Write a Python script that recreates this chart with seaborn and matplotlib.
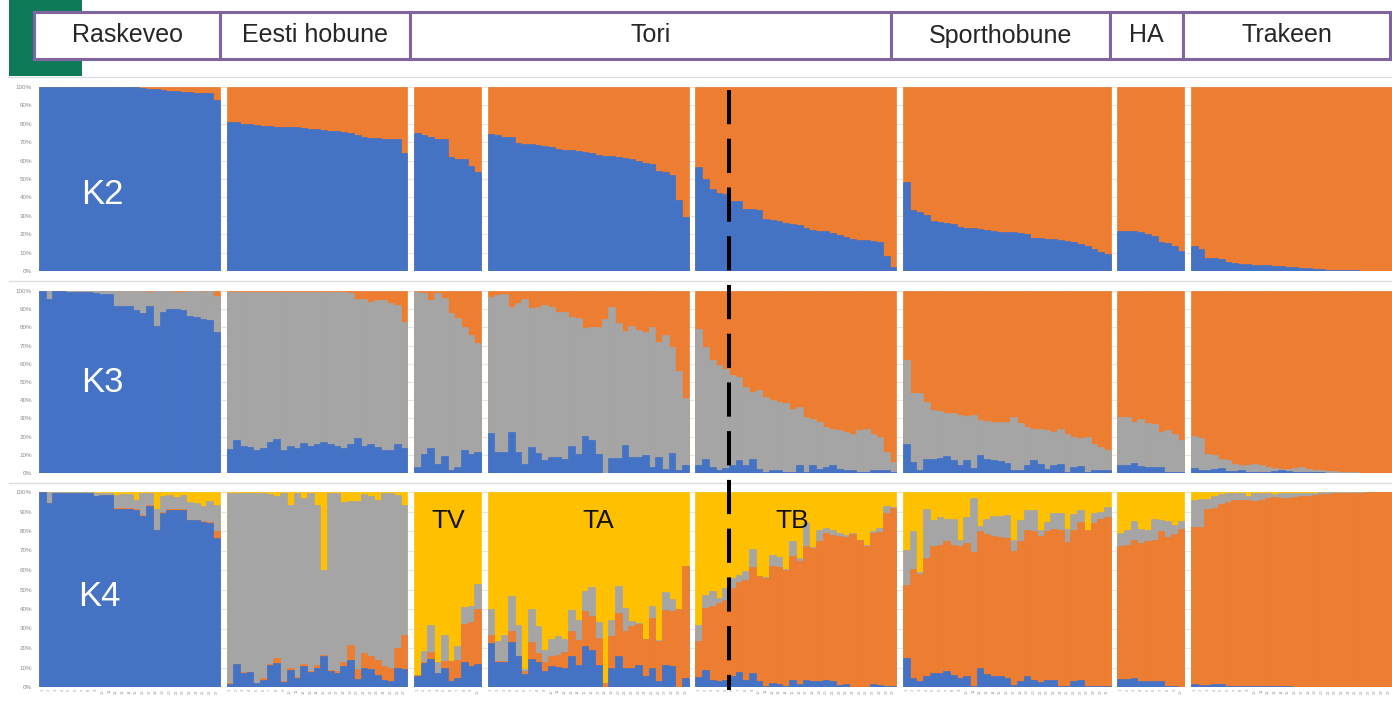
import numpy as np
import pandas as pd
import matplotlib
matplotlib.use("Agg")
import matplotlib.pyplot as plt
from matplotlib.patches import Rectangle
import seaborn as sns

# ---------------------------------------------------------------------------
# Ancestry proportions (one value per individual)
# ---------------------------------------------------------------------------
GROUPS = ["Raskeveo", "Eesti hobune", "TV", "TA", "TB", "Sporthobune", "HA", "Trakeen"]
HEADER = ["Raskeveo", "Eesti hobune", "Tori", "Sporthobune", "HA", "Trakeen"]
SUBLABELS = ["TV", "TA", "TB"]

# K2: blue share (orange is the rest)
RAS_K2_BLUE = [1.0, 1.0, 1.0, 1.0, 1.0, 1.0, 1.0, 1.0, 1.0, 1.0,
               1.0, 1.0, 1.0, 1.0, 1.0, 0.995, 0.99, 0.99, 0.985, 0.98,
               0.98, 0.975, 0.975, 0.97, 0.97, 0.965, 0.93]
EES_K2_BLUE = [0.81, 0.81, 0.80, 0.80, 0.795, 0.79, 0.79, 0.785, 0.78, 0.78,
               0.78, 0.775, 0.77, 0.77, 0.765, 0.76, 0.76, 0.755, 0.75, 0.74,
               0.73, 0.725, 0.725, 0.72, 0.72, 0.715, 0.64]
TV_K2_BLUE = [0.75, 0.74, 0.73, 0.72, 0.72, 0.62, 0.61, 0.61, 0.57, 0.54]
TA_K2_BLUE = [0.745, 0.74, 0.73, 0.73, 0.695, 0.69, 0.69, 0.685, 0.68, 0.675,
              0.665, 0.66, 0.655, 0.65, 0.645, 0.64, 0.63, 0.625, 0.625, 0.62,
              0.615, 0.61, 0.60, 0.585, 0.58, 0.545, 0.54, 0.52, 0.385, 0.295]
TB_K2_BLUE = [0.565, 0.50, 0.445, 0.425, 0.42, 0.38, 0.38, 0.335, 0.335, 0.33,
              0.28, 0.275, 0.27, 0.26, 0.255, 0.25, 0.235, 0.225, 0.22, 0.215,
              0.205, 0.195, 0.185, 0.175, 0.17, 0.17, 0.165, 0.16, 0.08, 0.02]
SPO_K2_BLUE = [0.485, 0.33, 0.32, 0.305, 0.27, 0.265, 0.26, 0.255, 0.24, 0.235,
               0.235, 0.23, 0.225, 0.215, 0.21, 0.21, 0.21, 0.205, 0.20, 0.18,
               0.178, 0.176, 0.172, 0.168, 0.163, 0.16, 0.145, 0.135, 0.12, 0.105,
               0.09]
HA_K2_BLUE = [0.22, 0.215, 0.215, 0.21, 0.20, 0.19, 0.155, 0.15, 0.135, 0.11]
TRA_K2_BLUE = [0.135, 0.12, 0.07, 0.068, 0.065, 0.05, 0.045, 0.04, 0.038, 0.035,
               0.033, 0.03, 0.028, 0.025, 0.022, 0.02, 0.018, 0.015, 0.012, 0.01,
               0.008, 0.006, 0.005, 0.004, 0.003, 0.002, 0.002, 0.001, 0.001, 0.0]

# K3: blue share and blue+gray (orange is the rest)
RAS_K3_BLUE = [1.0, 0.955, 0.998, 0.998, 0.997, 0.996, 0.995, 0.995, 0.99, 0.985,
               0.985, 0.92, 0.915, 0.915, 0.895, 0.88, 0.92, 0.81, 0.885, 0.90,
               0.90, 0.895, 0.86, 0.855, 0.845, 0.84, 0.775]
RAS_K3_GRAY = [1.0, 1.0, 1.0, 1.0, 1.0, 1.0, 1.0, 1.0, 1.0, 1.0,
               1.0, 1.0, 1.0, 1.0, 1.0, 1.0, 0.995, 1.0, 1.0, 1.0,
               0.995, 0.995, 1.0, 1.0, 0.995, 1.0, 0.97]
EES_K3_BLUE = [0.13, 0.183, 0.149, 0.143, 0.125, 0.138, 0.171, 0.189, 0.125, 0.149,
               0.138, 0.167, 0.149, 0.161, 0.171, 0.161, 0.149, 0.138, 0.161, 0.193,
               0.149, 0.161, 0.143, 0.125, 0.125, 0.161, 0.138]
EES_K3_GRAY = [0.997, 0.997, 0.997, 0.997, 0.997, 0.997, 0.997, 0.997, 0.997, 0.997,
               0.997, 0.997, 0.997, 0.997, 0.997, 0.997, 0.997, 0.997, 0.99, 0.954,
               0.954, 0.941, 0.95, 0.95, 0.932, 0.923, 0.831]
TV_K3_BLUE = [0.033, 0.106, 0.138, 0.051, 0.094, 0.018, 0.033, 0.125, 0.106, 0.116]
TV_K3_GRAY = [0.993, 0.987, 0.95, 0.987, 0.96, 0.877, 0.85, 0.804, 0.758, 0.712]
TA_K3_BLUE = [0.22, 0.116, 0.116, 0.226, 0.116, 0.051, 0.143, 0.11, 0.07, 0.088,
              0.088, 0.079, 0.147, 0.106, 0.202, 0.18, 0.106, 0.0, 0.083, 0.083,
              0.156, 0.088, 0.088, 0.097, 0.033, 0.088, 0.024, 0.11, 0.018, 0.042]
TA_K3_GRAY = [0.965, 0.978, 0.983, 0.914, 0.932, 0.954, 0.905, 0.914, 0.923, 0.914,
              0.886, 0.886, 0.859, 0.85, 0.794, 0.804, 0.804, 0.844, 0.91, 0.822,
              0.78, 0.807, 0.785, 0.776, 0.804, 0.721, 0.758, 0.694, 0.561, 0.413]
TB_K3_BLUE = [0.042, 0.079, 0.033, 0.018, 0.028, 0.042, 0.07, 0.042, 0.079, 0.024,
              0.005, 0.018, 0.015, 0.005, 0.005, 0.042, 0.005, 0.042, 0.024, 0.033,
              0.042, 0.024, 0.018, 0.018, 0.005, 0.005, 0.018, 0.015, 0.015, 0.005]
TB_K3_GRAY = [0.789, 0.694, 0.62, 0.593, 0.569, 0.538, 0.528, 0.473, 0.446, 0.455,
              0.418, 0.40, 0.391, 0.385, 0.354, 0.363, 0.308, 0.299, 0.281, 0.253,
              0.244, 0.235, 0.226, 0.217, 0.235, 0.244, 0.217, 0.198, 0.116, 0.061]
SPO_K3_BLUE = [0.158, 0.061, 0.018, 0.079, 0.079, 0.083, 0.092, 0.07, 0.042, 0.07,
               0.028, 0.097, 0.079, 0.07, 0.064, 0.055, 0.015, 0.018, 0.042, 0.07,
               0.051, 0.024, 0.042, 0.051, 0.005, 0.033, 0.037, 0.005, 0.015, 0.015,
               0.015]
SPO_K3_GRAY = [0.62, 0.44, 0.437, 0.391, 0.345, 0.34, 0.33, 0.327, 0.317, 0.312,
               0.317, 0.29, 0.286, 0.281, 0.281, 0.281, 0.308, 0.275, 0.253, 0.244,
               0.244, 0.235, 0.226, 0.244, 0.217, 0.198, 0.19, 0.198, 0.161, 0.143,
               0.128]
HA_K3_BLUE = [0.046, 0.046, 0.055, 0.037, 0.033, 0.033, 0.033, 0.005, 0.005, 0.005]
HA_K3_GRAY = [0.308, 0.305, 0.281, 0.294, 0.275, 0.268, 0.226, 0.235, 0.213, 0.18]
TRA_K3_BLUE = [0.03, 0.018, 0.018, 0.024, 0.03, 0.011, 0.011, 0.018, 0.005, 0.005,
               0.005, 0.008, 0.011, 0.015, 0.011, 0.008, 0.005, 0.005, 0.004, 0.003,
               0.002, 0.002, 0.001, 0.001, 0.001, 0.0, 0.0, 0.0, 0.0, 0.0]
TRA_K3_GRAY = [0.202, 0.195, 0.103, 0.097, 0.079, 0.07, 0.048, 0.042, 0.046, 0.051,
               0.046, 0.033, 0.029, 0.024, 0.024, 0.026, 0.031, 0.024, 0.018, 0.015,
               0.011, 0.011, 0.005, 0.005, 0.004, 0.002, 0.002, 0.001, 0.001, 0.0]

# K4: blue, blue+orange, blue+orange+gray (yellow is the rest)
RAS_K4_BLUE = [1.0, 0.944, 0.997, 0.997, 0.997, 0.997, 0.997, 0.995, 0.978, 0.986,
               0.986, 0.913, 0.915, 0.915, 0.909, 0.879, 0.926, 0.807, 0.892, 0.906,
               0.906, 0.906, 0.855, 0.855, 0.844, 0.841, 0.764]
RAS_K4_ORANGE = [1.0, 0.944, 0.997, 0.997, 0.997, 0.997, 0.997, 0.995, 0.978, 0.986,
                 0.986, 0.916, 0.918, 0.918, 0.912, 0.882, 0.932, 0.807, 0.897, 0.913,
                 0.913, 0.913, 0.858, 0.858, 0.85, 0.844, 0.798]
RAS_K4_GRAY = [1.0, 1.0, 1.0, 1.0, 0.999, 0.999, 0.999, 0.998, 0.995, 0.995,
               0.993, 0.985, 0.99, 0.99, 0.961, 0.995, 0.995, 0.913, 0.98, 0.985,
               0.975, 0.985, 0.95, 0.944, 0.926, 0.952, 0.935]
EES_K4_BLUE = [0.017, 0.118, 0.072, 0.075, 0.02, 0.038, 0.111, 0.123, 0.025, 0.089,
               0.046, 0.109, 0.075, 0.097, 0.157, 0.08, 0.072, 0.106, 0.14, 0.041,
               0.10, 0.09, 0.063, 0.038, 0.03, 0.097, 0.09]
EES_K4_ORANGE = [0.02, 0.12, 0.075, 0.078, 0.022, 0.045, 0.118, 0.149, 0.03, 0.095,
                 0.05, 0.12, 0.08, 0.114, 0.165, 0.088, 0.08, 0.13, 0.217, 0.09,
                 0.175, 0.157, 0.14, 0.11, 0.10, 0.20, 0.267]
EES_K4_GRAY = [0.995, 0.995, 0.995, 0.995, 0.995, 0.995, 0.99, 0.978, 0.995, 0.935,
               0.995, 0.97, 0.995, 0.935, 0.60, 0.995, 0.995, 0.95, 0.952, 0.955,
               0.99, 0.978, 0.96, 0.995, 0.995, 0.985, 0.935]
TV_K4_BLUE = [0.058, 0.123, 0.145, 0.072, 0.10, 0.029, 0.046, 0.126, 0.106, 0.118]
TV_K4_ORANGE = [0.063, 0.126, 0.178, 0.072, 0.132, 0.132, 0.14, 0.325, 0.332, 0.40]
TV_K4_GRAY = [0.063, 0.186, 0.316, 0.126, 0.268, 0.132, 0.212, 0.41, 0.417, 0.528]
TA_K4_BLUE = [0.226, 0.126, 0.126, 0.229, 0.161, 0.067, 0.144, 0.126, 0.08, 0.106,
              0.103, 0.097, 0.157, 0.115, 0.209, 0.191, 0.115, 0.0, 0.097, 0.157,
              0.097, 0.097, 0.115, 0.058, 0.097, 0.029, 0.115, 0.11, 0.0, 0.046]
TA_K4_ORANGE = [0.268, 0.132, 0.132, 0.285, 0.161, 0.08, 0.229, 0.174, 0.126, 0.157,
                0.166, 0.178, 0.285, 0.243, 0.391, 0.366, 0.251, 0.02, 0.26, 0.38,
                0.285, 0.311, 0.323, 0.246, 0.354, 0.238, 0.397, 0.39, 0.40, 0.622]
TA_K4_GRAY = [0.40, 0.238, 0.268, 0.468, 0.32, 0.092, 0.40, 0.311, 0.191, 0.246,
              0.26, 0.246, 0.397, 0.345, 0.49, 0.511, 0.332, 0.02, 0.345, 0.516,
              0.405, 0.337, 0.328, 0.246, 0.417, 0.24, 0.485, 0.45, 0.40, 0.622]
TB_K4_BLUE = [0.05, 0.085, 0.038, 0.029, 0.038, 0.055, 0.075, 0.038, 0.072, 0.029,
              0.003, 0.02, 0.017, 0.007, 0.038, 0.017, 0.038, 0.029, 0.029, 0.038,
              0.029, 0.012, 0.017, 0.0, 0.0, 0.0, 0.017, 0.012, 0.007, 0.003]
TB_K4_ORANGE = [0.238, 0.405, 0.414, 0.43, 0.448, 0.508, 0.537, 0.55, 0.615, 0.567,
                0.559, 0.622, 0.615, 0.602, 0.674, 0.644, 0.721, 0.713, 0.747, 0.79,
                0.781, 0.773, 0.77, 0.786, 0.752, 0.721, 0.79, 0.795, 0.892, 0.918]
TB_K4_GRAY = [0.32, 0.474, 0.49, 0.456, 0.508, 0.559, 0.576, 0.593, 0.708, 0.57,
              0.564, 0.679, 0.667, 0.604, 0.747, 0.66, 0.841, 0.72, 0.807, 0.815,
              0.807, 0.79, 0.782, 0.79, 0.755, 0.73, 0.80, 0.815, 0.93, 0.923]
SPO_K4_BLUE = [0.149, 0.046, 0.029, 0.055, 0.072, 0.072, 0.08, 0.063, 0.046, 0.055,
               0.007, 0.097, 0.068, 0.055, 0.055, 0.046, 0.012, 0.029, 0.055, 0.038,
               0.024, 0.038, 0.038, 0.003, 0.003, 0.029, 0.034, 0.007, 0.007, 0.007,
               0.007]
SPO_K4_ORANGE = [0.525, 0.605, 0.581, 0.662, 0.721, 0.73, 0.747, 0.73, 0.721, 0.738,
                 0.691, 0.798, 0.786, 0.776, 0.77, 0.764, 0.696, 0.747, 0.803, 0.798,
                 0.776, 0.798, 0.81, 0.807, 0.742, 0.807, 0.844, 0.803, 0.841, 0.862,
                 0.872]
SPO_K4_GRAY = [0.701, 0.798, 0.588, 0.913, 0.858, 0.872, 0.862, 0.862, 0.756, 0.872,
               0.969, 0.824, 0.862, 0.879, 0.876, 0.884, 0.752, 0.858, 0.909, 0.906,
               0.807, 0.844, 0.892, 0.892, 0.81, 0.889, 0.906, 0.807, 0.892, 0.90,
               0.923]
HA_K4_BLUE = [0.041, 0.041, 0.046, 0.029, 0.029, 0.029, 0.029, 0.003, 0.007, 0.0]
HA_K4_ORANGE = [0.725, 0.73, 0.756, 0.739, 0.747, 0.756, 0.798, 0.769, 0.786, 0.81]
HA_K4_GRAY = [0.79, 0.807, 0.85, 0.81, 0.807, 0.862, 0.858, 0.85, 0.832, 0.85]
TRA_K4_BLUE = [0.017, 0.012, 0.012, 0.017, 0.017, 0.007, 0.003, 0.007, 0.003, 0.003,
               0.003, 0.003, 0.007, 0.007, 0.003, 0.002, 0.001, 0.001, 0.001, 0.0,
               0.0, 0.0, 0.0, 0.0, 0.0, 0.0, 0.0, 0.0, 0.0, 0.0]
TRA_K4_ORANGE = [0.82, 0.82, 0.913, 0.918, 0.94, 0.947, 0.957, 0.96, 0.957, 0.952,
                 0.96, 0.969, 0.974, 0.969, 0.969, 0.974, 0.978, 0.981, 0.986, 0.99,
                 0.992, 0.993, 0.994, 0.995, 0.996, 0.997, 0.998, 0.999, 1.0, 1.0]
TRA_K4_GRAY = [0.957, 0.964, 0.964, 0.981, 0.991, 0.995, 0.995, 0.995, 0.981, 0.995,
               0.995, 0.995, 0.991, 0.995, 0.995, 0.995, 0.995, 0.997, 0.997, 0.998,
               0.998, 0.999, 0.999, 0.999, 1.0, 1.0, 1.0, 1.0, 1.0, 1.0]

BLUE, ORANGE, GRAY, YELLOW = "#4472C4", "#ED7D31", "#A5A5A5", "#FFC000"
PURPLE = "#8064A2"

K2 = {"blue": [RAS_K2_BLUE, EES_K2_BLUE, TV_K2_BLUE, TA_K2_BLUE, TB_K2_BLUE,
               SPO_K2_BLUE, HA_K2_BLUE, TRA_K2_BLUE]}
K3 = {"blue": [RAS_K3_BLUE, EES_K3_BLUE, TV_K3_BLUE, TA_K3_BLUE, TB_K3_BLUE,
               SPO_K3_BLUE, HA_K3_BLUE, TRA_K3_BLUE],
      "gray": [RAS_K3_GRAY, EES_K3_GRAY, TV_K3_GRAY, TA_K3_GRAY, TB_K3_GRAY,
               SPO_K3_GRAY, HA_K3_GRAY, TRA_K3_GRAY]}
K4 = {"blue": [RAS_K4_BLUE, EES_K4_BLUE, TV_K4_BLUE, TA_K4_BLUE, TB_K4_BLUE,
               SPO_K4_BLUE, HA_K4_BLUE, TRA_K4_BLUE],
      "orange": [RAS_K4_ORANGE, EES_K4_ORANGE, TV_K4_ORANGE, TA_K4_ORANGE, TB_K4_ORANGE,
                 SPO_K4_ORANGE, HA_K4_ORANGE, TRA_K4_ORANGE],
      "gray": [RAS_K4_GRAY, EES_K4_GRAY, TV_K4_GRAY, TA_K4_GRAY, TB_K4_GRAY,
               SPO_K4_GRAY, HA_K4_GRAY, TRA_K4_GRAY]}

# ---------------------------------------------------------------------------
# x positions: one slot per individual, one empty slot between groups
# ---------------------------------------------------------------------------
group_pos = []
cursor = 0
for vals in K2["blue"]:
    group_pos.append(np.arange(cursor, cursor + len(vals)))
    cursor += len(vals) + 1
n_slots = cursor - 1


def build_frame(layers):
    """layers: list of (colour, list-of-group-arrays) from top of stack to bottom."""
    rows = []
    for color, arrays in layers:
        for pos, vals in zip(group_pos, arrays):
            for p, v in zip(pos, vals):
                rows.append({"pos": p, "top": v, "color": color})
    return pd.DataFrame(rows)


ones = [np.ones(len(v)) for v in K2["blue"]]
frames = [
    build_frame([(ORANGE, ones), (BLUE, K2["blue"])]),
    build_frame([(ORANGE, ones), (GRAY, K3["gray"]), (BLUE, K3["blue"])]),
    build_frame([(YELLOW, ones), (GRAY, K4["gray"]), (ORANGE, K4["orange"]),
                 (BLUE, K4["blue"])]),
]

# ---------------------------------------------------------------------------
# Figure (pixel layout of the 1392 x 711 original)
# ---------------------------------------------------------------------------
sns.set_theme(style="white")
plt.rcParams["font.family"] = ["Liberation Sans", "DejaVu Sans"]

W, H = 1392, 711
fig = plt.figure(figsize=(W / 100, H / 100), dpi=100)
fig.patch.set_facecolor("white")

x_left, x_right = 39, 1392
panel_rows = [(87, 271), (291, 473), (492, 687)]   # top / bottom pixel of each K panel

axes = []
for (top, bottom), df in zip(panel_rows, frames):
    ax = fig.add_axes([x_left / W, 1 - bottom / H, (x_right - x_left) / W, (bottom - top) / H])
    for color in df["color"].unique():
        sub = df[df["color"] == color]
        sns.barplot(data=sub, x="pos", y="top", native_scale=True, width=1.0,
                    color=color, saturation=1, errorbar=None,
                    linewidth=0.5, edgecolor=color, ax=ax)
    ax.set_xlim(-0.5, n_slots - 0.5)
    ax.set_ylim(0, 1)
    ax.set_xlabel("")
    ax.set_ylabel("")
    ticks = np.linspace(0, 1, 11)
    ax.set_yticks(ticks)
    ax.set_yticklabels([f"{int(round(t * 100))}%" for t in ticks])
    ax.tick_params(axis="y", labelsize=4.5, colors="#8c8c8c", length=0, pad=5)
    ax.grid(axis="y", color="#e6e6e6", lw=0.8)
    ax.grid(axis="x", visible=False)
    ax.set_axisbelow(True)
    for s in ax.spines.values():
        s.set_visible(False)
    ax.set_xticks([])
    axes.append(ax)

# tiny sample labels under the last panel
all_pos = np.concatenate(group_pos)
sample_ids = np.concatenate([np.arange(1, len(p) + 1) for p in group_pos])
axes[2].set_xticks(all_pos)
axes[2].set_xticklabels([str(i) for i in sample_ids], rotation=90)
axes[2].tick_params(axis="x", labelsize=3, colors="#9a9a9a", length=0, pad=1.5)

# overlay in pixel coordinates for header, labels and separators
ov = fig.add_axes([0, 0, 1, 1], zorder=10)
ov.set_xlim(0, W)
ov.set_ylim(H, 0)
ov.axis("off")

ov.add_patch(Rectangle((9, 0), 73, 76, facecolor="#0E7A57", edgecolor="none"))
header_edges = [34, 220, 410, 891, 1110, 1183, 1390]
for name, x0, x1 in zip(HEADER, header_edges[:-1], header_edges[1:]):
    ov.add_patch(Rectangle((x0, 12), x1 - x0, 47, facecolor="white",
                           edgecolor=PURPLE, lw=2.2))
    ov.text((x0 + x1) / 2, 42.5, name, ha="center", va="baseline",
            fontsize=18, color="#262626")

for y in (76.5, 281, 482.5):
    ov.plot([9, W], [y, y], color="#dcdcdc", lw=1)

# K labels (baseline positions measured on the original)
for label, xc, yb in zip(["K2", "K3", "K4"], [102, 102, 99], [204, 392, 606]):
    ov.text(xc, yb, label, ha="center", va="baseline", fontsize=25, color="white")

for label, xc in zip(SUBLABELS, [448, 598, 792]):
    ov.text(xc, 528, label, ha="center", va="baseline", fontsize=19, color="#111111")

# dashed line splitting TB after its fifth individual
x_split = group_pos[GROUPS.index("TB")][4] + 0.5
x_px = fig.transFigure.inverted().transform(axes[0].transData.transform((x_split, 0)))[0] * W
ov.plot([x_px, x_px], [90, 690], color="black", lw=2.9,
        linestyle=(0, (8.5, 3.6)), solid_capstyle="butt", dash_capstyle="butt")

fig.savefig("out.png", dpi=100)
